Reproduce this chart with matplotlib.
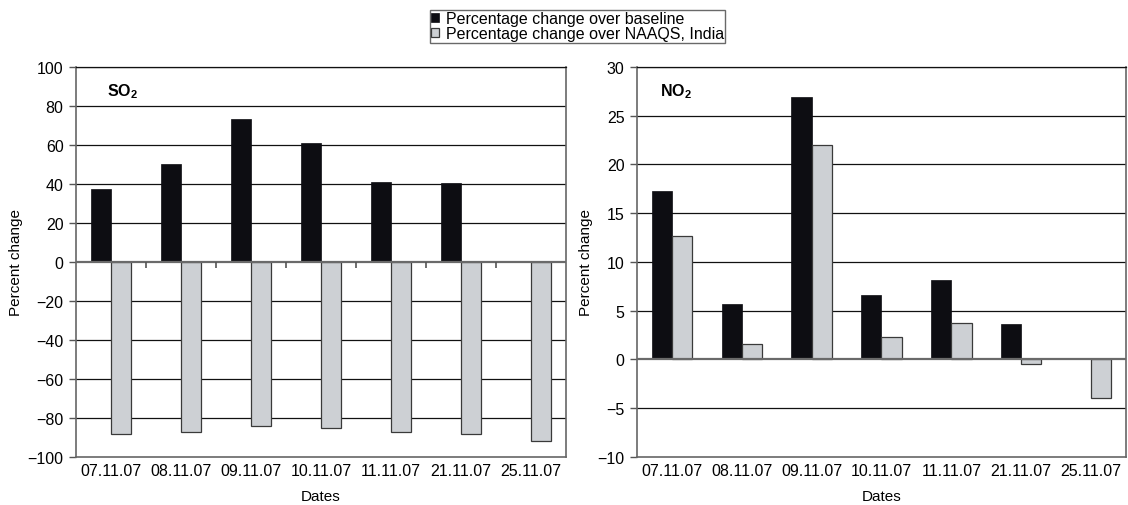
import matplotlib
matplotlib.use("Agg")
import matplotlib.pyplot as plt
import numpy as np

plt.rcParams['font.family'] = ['Liberation Sans', 'DejaVu Sans']
plt.rcParams['mathtext.fontset'] = 'custom'
plt.rcParams['mathtext.rm'] = 'Liberation Sans'
plt.rcParams['mathtext.bf'] = 'Liberation Sans:bold'

dates = ["07.11.07", "08.11.07", "09.11.07", "10.11.07", "11.11.07", "21.11.07", "25.11.07"]
so2_baseline = [37.4, 50.3, 73.3, 61.0, 41.0, 40.5, np.nan]
so2_naaqs = [-88.2, -87.0, -84.1, -85.3, -87.0, -88.2, -92.0]
no2_baseline = [17.25, 5.67, 26.9, 6.58, 8.13, 3.65, np.nan]
no2_naaqs = [12.67, 1.58, 22.0, 2.35, 3.79, -0.5, -3.95]
legend_labels = ["Percentage change over baseline", "Percentage change over NAAQS, India"]

BLACK = "#0d0d12"
GREY = "#cdd0d4"
FS = 11.5

fig = plt.figure(figsize=(11.28, 5.06), dpi=100)
ax1 = fig.add_axes([0.0674, 0.0949, 0.4344, 0.7708])
ax2 = fig.add_axes([0.5647, 0.0949, 0.4335, 0.7708])

def draw(ax, base, naaqs, ylim, step, title, title_x, boundary_ticks):
    x = np.arange(len(dates))
    w = 0.29
    b1 = ax.bar(x - w / 2, base, w, color=BLACK, edgecolor=BLACK, linewidth=0.5, zorder=3)
    b2 = ax.bar(x + w / 2, naaqs, w, color=GREY, edgecolor="#3a3a3a", linewidth=0.9, zorder=3)
    ax.set_xlim(-0.5, len(dates) - 0.5)
    ax.set_ylim(*ylim)
    ticks = np.arange(ylim[0], ylim[1] + step / 2, step)
    ax.set_yticks(ticks)
    ax.set_yticklabels([f"{int(t)}".replace("-", "\u2212") for t in ticks], fontsize=FS)
    for t in ticks:
        if t == 0:
            ax.axhline(0, color="#6a6a6a", linewidth=1.6, zorder=4)
        elif t != ylim[0]:
            ax.axhline(t, color="#111111", linewidth=0.9, zorder=1)
    ax.set_xticks(x)
    ax.set_xticklabels(dates, fontsize=FS)
    ax.tick_params(axis='x', length=0, pad=4)
    ax.tick_params(axis='y', length=5, width=1, color="#555555", pad=4)
    for s in ['left', 'bottom', 'right']:
        ax.spines[s].set_color("#666666")
        ax.spines[s].set_linewidth(1.2)
    ax.spines['top'].set_color("#111111")
    ax.spines['top'].set_linewidth(0.9)
    if boundary_ticks:
        span = (ylim[1] - ylim[0]) * 0.015
        ax.vlines(x[:-1] + 0.5, -span, 0, color="#555555", linewidth=1.2, zorder=4)
    ax.set_ylabel("Percent change", fontsize=11, labelpad=3)
    ax.set_xlabel("Dates", fontsize=11, labelpad=8)
    ax.text(title_x, 0.94, title, transform=ax.transAxes, fontsize=11.5, va='center', ha='left')
    return b1, b2

b1, b2 = draw(ax1, so2_baseline, so2_naaqs, (-100, 100), 20, r'$\mathbf{SO_2}$', 0.063, True)
draw(ax2, no2_baseline, no2_naaqs, (-10, 30), 5, r'$\mathbf{NO_2}$', 0.048, False)

leg = fig.legend([b1, b2], legend_labels, loc='upper center', bbox_to_anchor=(0.512, 0.978),
                 fontsize=11.5, frameon=True, fancybox=False, handlelength=0.5, handleheight=0.5,
                 handletextpad=0.4, borderpad=0.08, labelspacing=0.0, borderaxespad=0)
leg.get_frame().set_edgecolor("#444444")
leg.get_frame().set_linewidth(1.0)

fig.savefig("out.png", dpi=100, facecolor="white")
